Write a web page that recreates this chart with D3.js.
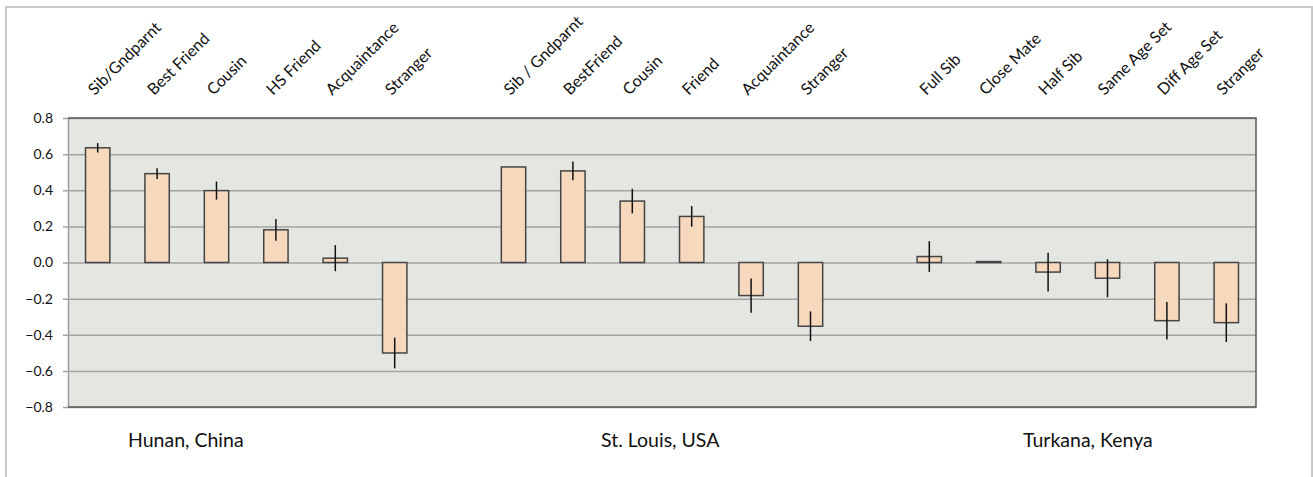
<!DOCTYPE html>
<html>
<head>
<meta charset="utf-8">
<script src="https://cdn.jsdelivr.net/npm/d3@7"></script>
<style>
  html, body { margin: 0; padding: 0; background: #fff; }
  svg { display: block; }
  text { font-family: Lato, "Open Sans", sans-serif; fill: #111; }
</style>
</head>
<body>
<svg id="chart" width="1313" height="477"></svg>
<script>
// ---- data ----
const groupNames = ["Hunan, China", "St. Louis, USA", "Turkana, Kenya"];

const hunanLabels = ["Sib/Gndparnt", "Best Friend", "Cousin", "HS Friend", "Acquaintance", "Stranger"];
const hunanValues = [0.635, 0.492, 0.398, 0.181, 0.024, -0.501];
const hunanErrors = [0.026, 0.030, 0.050, 0.060, 0.072, 0.085];

const stlLabels = ["Sib / Gndparnt", "BestFriend", "Cousin", "Friend", "Acquaintance", "Stranger"];
const stlValues = [0.529, 0.507, 0.340, 0.255, -0.183, -0.353];
const stlErrors = [0.000, 0.052, 0.068, 0.057, 0.095, 0.082];

const turkanaLabels = ["Full Sib", "Close Mate", "Half Sib", "Same Age Set", "Diff Age Set", "Stranger"];
const turkanaValues = [0.033, 0.005, -0.053, -0.087, -0.322, -0.333];
const turkanaErrors = [0.085, 0.000, 0.107, 0.105, 0.104, 0.107];

const yTicks = [0.8, 0.6, 0.4, 0.2, 0.0, -0.2, -0.4, -0.6, -0.8];

// ---- build rows (with spacer slots between groups) ----
const groupsData = [
  [hunanLabels, hunanValues, hunanErrors],
  [stlLabels, stlValues, stlErrors],
  [turkanaLabels, turkanaValues, turkanaErrors]
];
const slots = [];
const rows = [];
groupsData.forEach((g, gi) => {
  if (gi > 0) slots.push("gap" + gi);
  g[0].forEach((lab, i) => {
    const key = gi + ":" + lab;
    slots.push(key);
    rows.push({ key, label: lab, value: g[1][i], err: g[2][i], group: gi });
  });
});

// ---- layout ----
const svg = d3.select("#chart");
const pL = 68, pR = 1256, pT = 118, pB = 407;

const x = d3.scaleBand().domain(slots).range([pL, pR]).paddingInner(0.59).paddingOuter(0.295);
const y = d3.scaleLinear().domain([-0.8, 0.8]).range([pB, pT]);

// outer frame
svg.append("path")
  .attr("d", `M6,477 L6,7 L1312,7 L1312,477`)
  .attr("fill", "none").attr("stroke", "#c8c8c8").attr("stroke-width", 2);

// plot background
svg.append("rect")
  .attr("x", pL).attr("y", pT).attr("width", pR - pL).attr("height", pB - pT)
  .attr("fill", "#e4e6e2");

// gridlines + ticks
const yAxis = d3.axisLeft(y).tickValues(yTicks).tickFormat(d3.format(".1f"))
  .tickSize(-(pR - pL)).tickSizeOuter(0).tickPadding(15);
const ga = svg.append("g").attr("transform", `translate(${pL},0)`).call(yAxis);
ga.select(".domain").attr("stroke", "#9a9a9a").attr("stroke-width", 1.5);
ga.selectAll(".tick line").attr("stroke", "#a3a3a3").attr("stroke-width", 1.5)
  .attr("x1", -5);
ga.selectAll(".tick text").style("font-size", "14px").style("font-family", "Lato, 'Open Sans', sans-serif")
  .attr("fill", "#111").attr("x", -15);

// plot border top/right/bottom
svg.append("path")
  .attr("d", `M${pL},${pT} L${pR},${pT} L${pR},${pB} L${pL},${pB}`)
  .attr("fill", "none").attr("stroke", "#5a5a5a").attr("stroke-width", 1.5);

// bars
svg.append("g").selectAll("rect").data(rows).join("rect")
  .attr("x", d => x(d.key))
  .attr("width", x.bandwidth())
  .attr("y", d => Math.min(y(d.value), y(0)))
  .attr("height", d => Math.max(Math.abs(y(d.value) - y(0)), 0.5))
  .attr("fill", "#f6d9bd")
  .attr("stroke", "#444")
  .attr("stroke-width", 1.5);

// error bars
svg.append("g").selectAll("line").data(rows.filter(d => d.err > 0)).join("line")
  .attr("x1", d => x(d.key) + x.bandwidth() / 2)
  .attr("x2", d => x(d.key) + x.bandwidth() / 2)
  .attr("y1", d => y(d.value + d.err))
  .attr("y2", d => y(d.value - d.err))
  .attr("stroke", "#111").attr("stroke-width", 1.5);

// category labels (rotated)
svg.append("g").selectAll("text").data(rows).join("text")
  .attr("transform", d => `translate(${x(d.key) + x.bandwidth() / 2 - 3},96) rotate(-45)`)
  .attr("text-anchor", "start")
  .style("font-size", "16px")
  .text(d => d.label);

// group labels
const groupLabelX = [128, 601, 1023];
svg.append("g").selectAll("text").data(groupNames).join("text")
  .attr("x", (d, i) => groupLabelX[i])
  .attr("y", 447)
  .style("font-size", "19.5px")
  .text(d => d);
</script>
</body>
</html>
